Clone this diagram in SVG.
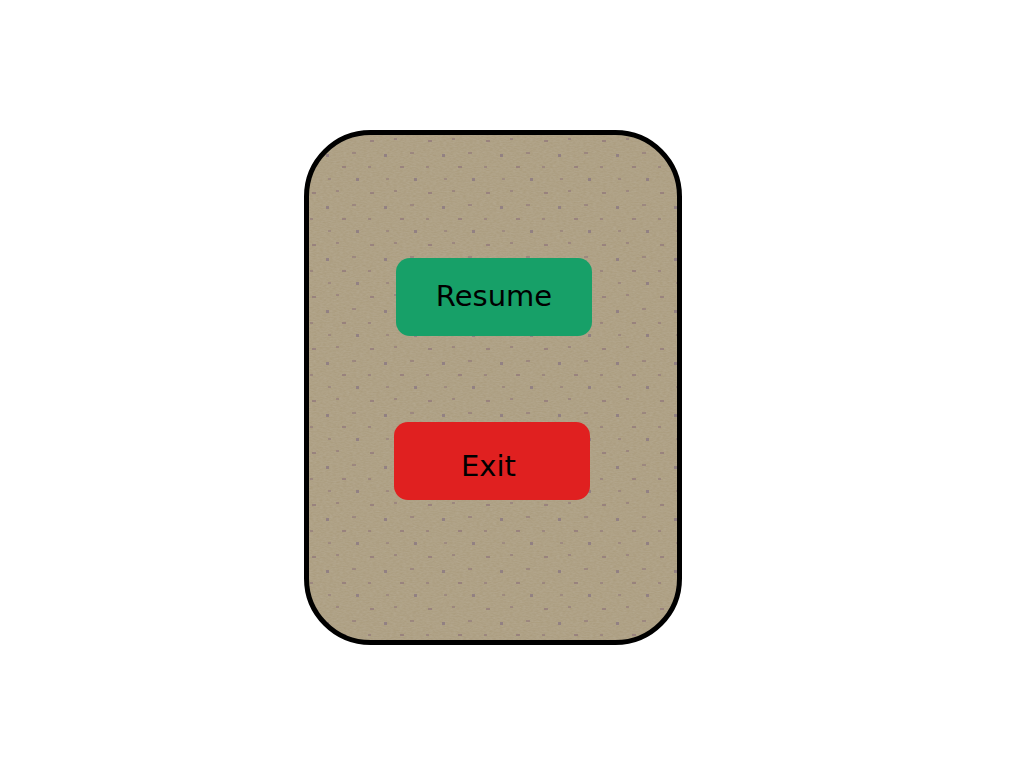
<svg xmlns="http://www.w3.org/2000/svg" width="1024" height="768" viewBox="0 0 1024 768">
<defs>
<filter id="grain" x="0" y="0" width="100%" height="100%">
<feTurbulence type="fractalNoise" baseFrequency="0.3 0.8" numOctaves="2" seed="3" result="n"/>
<feColorMatrix in="n" type="matrix" values="0 0 0 0 0.55  0 0 0 0 0.5  0 0 0 0 0.4  0 0 0 0.4 0" result="c"/>
<feComposite in="c" in2="SourceGraphic" operator="atop"/>
</filter>
<pattern id="dots" width="58" height="52" patternUnits="userSpaceOnUse" x="306" y="132">
<rect x="6" y="8" width="4" height="2" fill="#8a6e78" opacity="0.6"/>
<rect x="30" y="6" width="3" height="2" fill="#8a6e78" opacity="0.5"/>
<rect x="20" y="22" width="3" height="3" fill="#7f6a80" opacity="0.6"/>
<rect x="46" y="20" width="4" height="2" fill="#8a6e78" opacity="0.5"/>
<rect x="4" y="34" width="3" height="2" fill="#8a6e78" opacity="0.5"/>
<rect x="36" y="34" width="4" height="2" fill="#8a6e78" opacity="0.6"/>
<rect x="50" y="46" width="3" height="3" fill="#7f6a80" opacity="0.6"/>
<rect x="22" y="46" width="3" height="2" fill="#8a6e78" opacity="0.45"/>
</pattern>
<style>
.btn-text{font-family:"DejaVu Sans",sans-serif;font-size:29px;fill:#000;text-anchor:middle}
</style>
</defs>
<g id="panel">
<rect x="306.5" y="132.5" width="373" height="510" rx="64" ry="64" fill="#a99a7b" filter="url(#grain)"/>
<rect x="306.5" y="132.5" width="373" height="510" rx="64" ry="64" fill="url(#dots)"/>
<rect x="306.5" y="132.5" width="373" height="510" rx="64" ry="64" fill="none" stroke="#000" stroke-width="5"/>
</g>
<g id="resume">
<rect x="396" y="258" width="196" height="78" rx="14" fill="#17a068"/>
<text class="btn-text" x="494" y="306">Resume</text>
</g>
<g id="exit">
<rect x="394" y="422" width="196" height="78" rx="14" fill="#e02020"/>
<text class="btn-text" x="488.5" y="476">Exit</text>
</g>
<g id="connectors"/>
</svg>
